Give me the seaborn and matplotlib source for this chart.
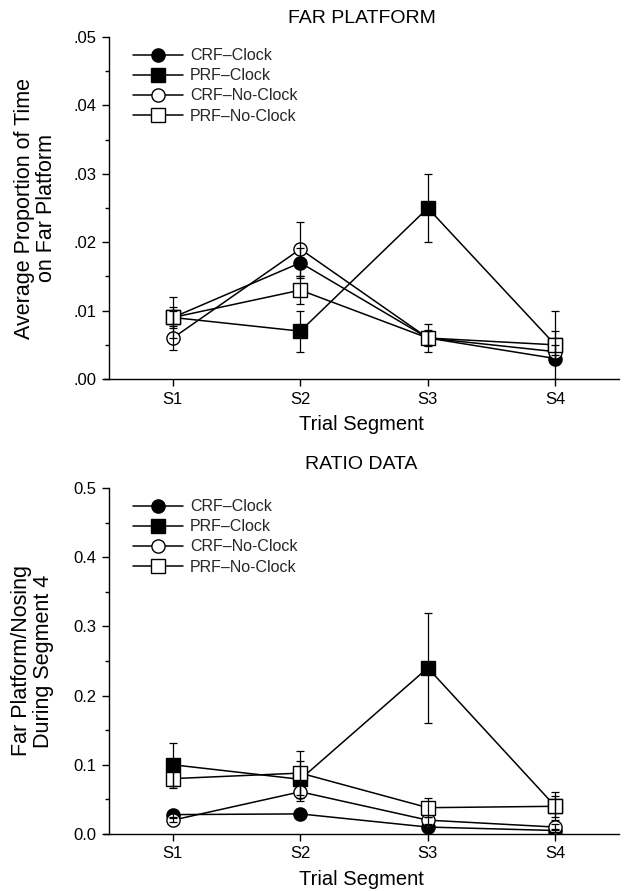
import matplotlib
matplotlib.use("Agg")
import matplotlib.pyplot as plt
from matplotlib.ticker import FixedLocator, MultipleLocator, FuncFormatter
import seaborn as sns
import pandas as pd

segments = ["S1", "S2", "S3", "S4"]
groups = ["CRF\u2013Clock", "PRF\u2013Clock", "CRF\u2013No-Clock", "PRF\u2013No-Clock"]

# Far platform (top)
far_crf_clock = [0.009, 0.017, 0.006, 0.003]
far_prf_clock = [0.009, 0.007, 0.025, 0.005]
far_crf_noclock = [0.006, 0.019, 0.006, 0.004]
far_prf_noclock = [0.009, 0.013, 0.006, 0.005]
far_err_crf_clock = [0.001, 0.0022, 0.001, 0.0005]
far_err_prf_clock = [0.003, 0.003, 0.005, 0.005]
far_err_crf_noclock = [0.0017, 0.004, 0.0012, 0.001]
far_err_prf_noclock = [0.0015, 0.002, 0.002, 0.002]

# Ratio data (bottom)
ratio_crf_clock = [0.028, 0.029, 0.010, 0.005]
ratio_prf_clock = [0.100, 0.079, 0.240, 0.040]
ratio_crf_noclock = [0.020, 0.061, 0.020, 0.010]
ratio_prf_noclock = [0.080, 0.088, 0.038, 0.040]
ratio_err_crf_clock = [0.003, 0.003, 0.003, 0.002]
ratio_err_prf_clock = [0.031, 0.027, 0.080, 0.015]
ratio_err_crf_noclock = [0.003, 0.013, 0.005, 0.004]
ratio_err_prf_noclock = [0.013, 0.032, 0.014, 0.020]

sns.set_theme(style="ticks")
plt.rcParams["font.family"] = ["Liberation Sans", "DejaVu Sans"]

styles = {
    groups[0]: dict(marker="o", markerfacecolor="black"),
    groups[1]: dict(marker="s", markerfacecolor="black"),
    groups[2]: dict(marker="o", markerfacecolor="white"),
    groups[3]: dict(marker="s", markerfacecolor="white"),
}

fig = plt.figure(figsize=(6.27, 8.91), dpi=100)
ax1 = fig.add_axes([0.1660, 0.5746, 0.8212, 0.3838])
ax2 = fig.add_axes([0.1660, 0.0640, 0.8212, 0.3883])


def draw(ax, series, errs, ylim, major, minor, fmt, title, ylabel, labelpad, titlepad):
    xpos = [1, 2, 3, 4]
    for g, vals, er in zip(groups, series, errs):
        df = pd.DataFrame({"x": xpos, "y": vals})
        sns.lineplot(data=df, x="x", y="y", ax=ax, color="black", linewidth=1.1,
                     markersize=9.5, markeredgecolor="black", markeredgewidth=1.0,
                     errorbar=None, label=g, zorder=2, **styles[g])
        ax.errorbar(xpos, vals, yerr=er, fmt="none", ecolor="black",
                    elinewidth=0.9, capsize=3, capthick=0.9, zorder=3)
    ax.set_xlim(0.46, 4.5)
    ax.set_ylim(*ylim)
    ax.spines["left"].set_position(("data", 0.5))
    ax.spines["left"].set_bounds(ylim[0], ylim[1])
    ax.spines["top"].set_visible(False)
    ax.spines["right"].set_visible(False)
    for s in ("left", "bottom"):
        ax.spines[s].set_linewidth(1.0)
        ax.spines[s].set_color("black")
    ax.xaxis.set_major_locator(FixedLocator(xpos))
    ax.set_xticklabels(segments)
    ax.yaxis.set_major_locator(MultipleLocator(major))
    ax.yaxis.set_minor_locator(MultipleLocator(minor))
    ax.yaxis.set_major_formatter(FuncFormatter(fmt))
    ax.tick_params(axis="both", which="major", direction="out", length=5, width=1,
                   labelsize=12, pad=4, color="black", labelcolor="black")
    ax.tick_params(axis="y", which="minor", direction="out", length=3, width=1, color="black")
    ax.set_xlabel("Trial Segment", fontsize=14.5, labelpad=6, color="black")
    ax.set_ylabel(ylabel, fontsize=15.5, labelpad=labelpad, color="black", linespacing=1.05)
    ax.set_title(title, fontsize=14, pad=titlepad, color="black")
    leg = ax.legend(loc="upper left", bbox_to_anchor=(0.035, 1.0), frameon=False,
                    fontsize=11.5, handlelength=3.1, handletextpad=0.45,
                    labelspacing=0.32, borderaxespad=0.3)
    for h in leg.legend_handles:
        h.set_markersize(9.5)


draw(ax1,
     [far_crf_clock, far_prf_clock, far_crf_noclock, far_prf_noclock],
     [far_err_crf_clock, far_err_prf_clock, far_err_crf_noclock, far_err_prf_noclock],
     (0.0, 0.05), 0.01, 0.005,
     lambda v, p: ("%.2f" % v).lstrip("0"),
     "FAR PLATFORM", "Average Proportion of Time\non Far Platform", 12, 10)

draw(ax2,
     [ratio_crf_clock, ratio_prf_clock, ratio_crf_noclock, ratio_prf_noclock],
     [ratio_err_crf_clock, ratio_err_prf_clock, ratio_err_crf_noclock, ratio_err_prf_noclock],
     (0.0, 0.5), 0.1, 0.05,
     lambda v, p: "%.1f" % v,
     "RATIO DATA", "Far Platform/Nosing\nDuring Segment 4", 14, 14)

fig.savefig("out.png", dpi=100)
